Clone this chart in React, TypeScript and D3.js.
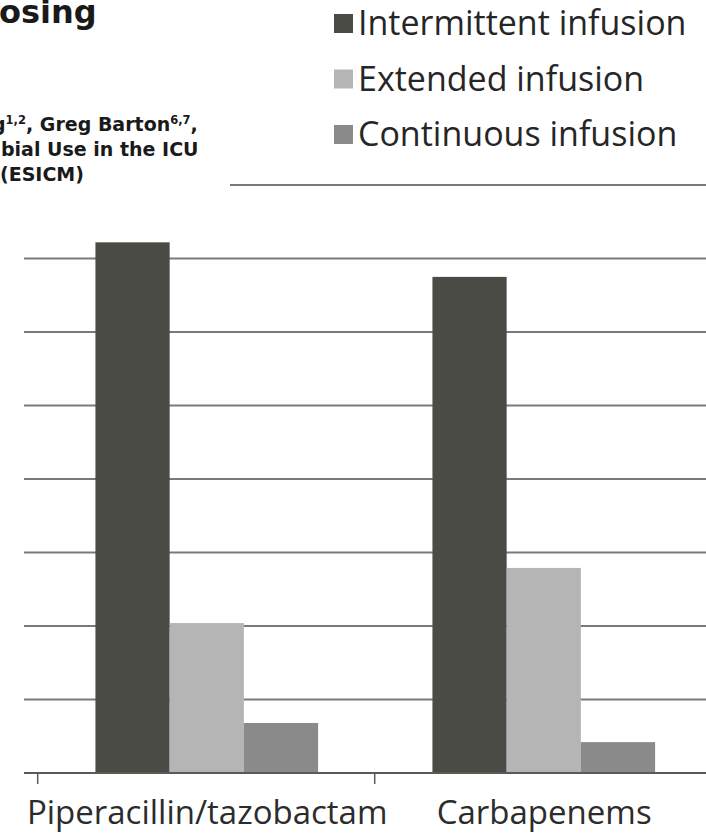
import React from "react";
import * as d3 from "d3";

const categories = ["Piperacillin/tazobactam", "Carbapenems"];
const series = ["Intermittent infusion", "Extended infusion", "Continuous infusion"];
const intermittent = [72.2, 67.5];
const extended = [20.4, 27.9];
const continuous = [6.8, 4.2];
const seriesValues = [intermittent, extended, continuous];
const yTicks = [10, 20, 30, 40, 50, 60, 70, 80];
const seriesColors = ["#4b4b46", "#b5b5b5", "#8a8a8a"];

const W = 706;
const H = 833;

export default function App() {
  const y = d3.scaleLinear().domain([0, 80]).range([773, 185]);
  const x0 = d3.scaleBand<string>().domain(categories).range([37.7, 711.7]).padding(0);
  const x1 = d3
    .scaleBand<string>()
    .domain(series)
    .range([0, x0.bandwidth()])
    .paddingInner(0)
    .paddingOuter(0.77)
    .align(0.505);

  const bandEdges = categories.map((c) => x0(c) as number);

  return (
    <svg
      width={W}
      height={H}
      style={{ position: "absolute", left: 0, top: 0, background: "#fff" }}
      fontFamily="'Open Sans', sans-serif"
    >
      <rect x={0} y={0} width={W} height={H} fill="#fff" />
      {/* gridlines */}
      {yTicks.map((t) => (
        <line key={t} x1={24} x2={W} y1={y(t)} y2={y(t)} stroke="#7a7a7a" strokeWidth={2} />
      ))}
      {/* bars */}
      {categories.map((c, ci) => (
        <g key={c} transform={`translate(${x0(c)},0)`}>
          {series.map((s, si) => {
            const v = seriesValues[si][ci];
            return (
              <rect
                key={s}
                x={x1(s)}
                y={y(v)}
                width={x1.bandwidth()}
                height={y(0) - y(v)}
                fill={seriesColors[si]}
              />
            );
          })}
        </g>
      ))}
      {/* x axis */}
      <line x1={24} x2={W} y1={y(0)} y2={y(0)} stroke="#5a5a5a" strokeWidth={2} />
      {bandEdges.map((e, i) => (
        <line key={i} x1={e} x2={e} y1={y(0)} y2={y(0) + 11} stroke="#5a5a5a" strokeWidth={1.5} />
      ))}
      {categories.map((c) => (
        <text
          key={c}
          x={(x0(c) as number) + x0.bandwidth() / 2 + 1}
          y={824}
          textAnchor="middle"
          fontSize={33}
          fill="#2c2c2c"
        >
          {c}
        </text>
      ))}
      {/* header overlay */}
      <rect x={0} y={0} width={230} height={200} fill="#fff" />
      <text x={-1} y={23} fontFamily="'DejaVu Sans', sans-serif" fontWeight="bold" fontSize={32} fill="#1a1a1a">
        osing
      </text>
      <g fontFamily="'DejaVu Sans', sans-serif" fontWeight="bold" fontSize={19} fill="#1a1a1a">
        <text x={-8} y={131}>
          g<tspan dy={-7} fontSize={11.5}>1,2</tspan>
          <tspan dy={7}>, Greg Barton</tspan>
          <tspan dy={-7} fontSize={11.5}>6,7</tspan>
          <tspan dy={7}>,</tspan>
        </text>
        <text x={1} y={156}>bial Use in the ICU</text>
        <text x={0} y={181}>(ESICM)</text>
      </g>
      {/* legend */}
      {series.map((s, i) => (
        <g key={s} transform={`translate(0,${i * 55.5})`}>
          <rect x={334} y={14} width={19} height={19} fill={seriesColors[i]} />
          <text x={358} y={35} fontSize={34} fill="#262626">
            {s}
          </text>
        </g>
      ))}
    </svg>
  );
}
